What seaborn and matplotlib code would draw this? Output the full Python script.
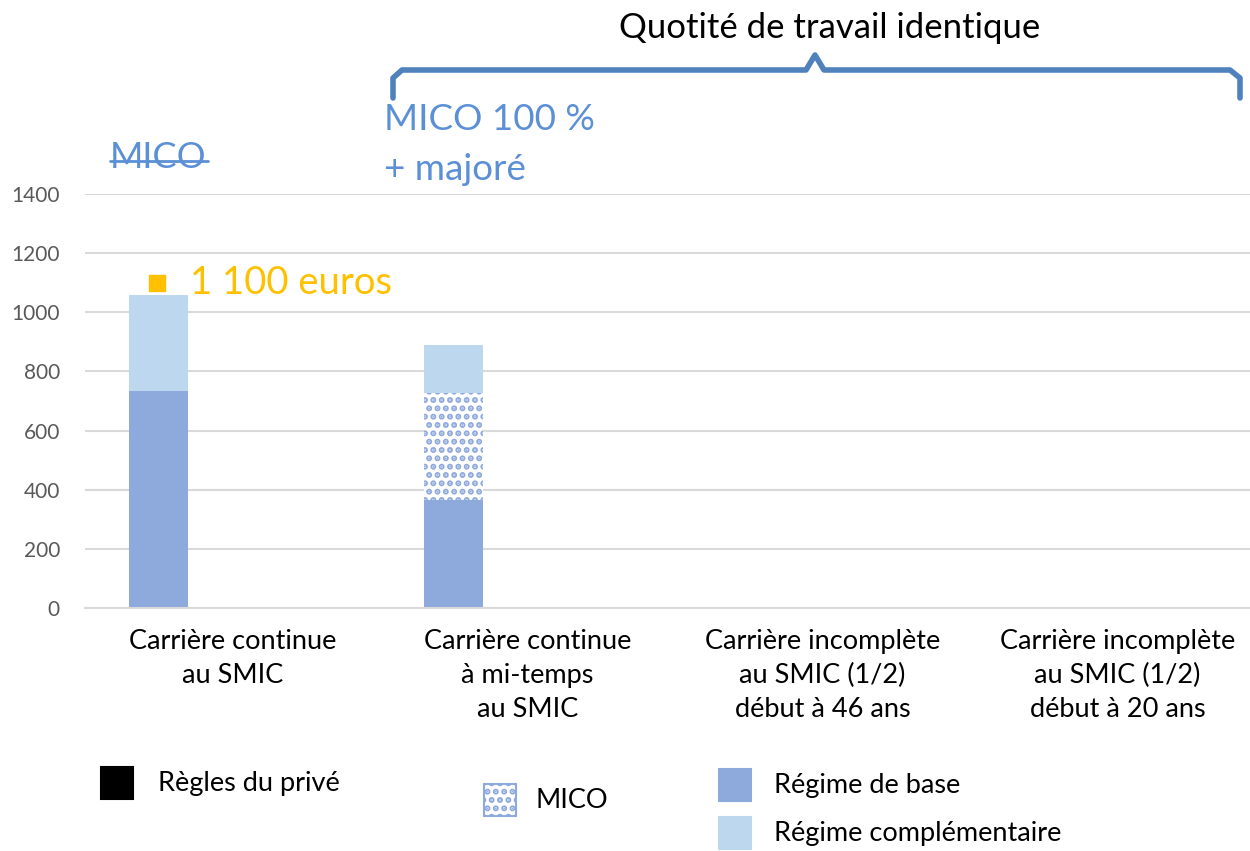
import matplotlib
matplotlib.use("Agg")
import matplotlib.pyplot as plt
from matplotlib.patches import Rectangle
from matplotlib.lines import Line2D
import numpy as np
import pandas as pd
import seaborn as sns

categories = ["Carrière continue\nau SMIC",
              "Carrière continue\nà mi-temps\nau SMIC",
              "Carrière incomplète\nau SMIC (1/2)\ndébut à 46 ans",
              "Carrière incomplète\nau SMIC (1/2)\ndébut à 20 ans"]
regime_base = [735, 365, 0, 0]
mico = [0, 363, 0, 0]
regime_compl = [325, 162, 0, 0]
y_ticks = [0, 200, 400, 600, 800, 1000, 1200, 1400]

c_base = "#8EA9DB"
c_compl = "#BDD7EE"
c_blue_txt = "#5B8FD6"
c_yellow = "#FFC000"
c_bracket = "#4F81BD"

sns.set_theme(style="white")
plt.rcParams["font.family"] = ["Lato", "DejaVu Sans"]
plt.rcParams["hatch.color"] = c_base
plt.rcParams["hatch.linewidth"] = 3.0

W, H = 1250, 851
fig = plt.figure(figsize=(W / 100, H / 100), dpi=100)


def px(x, y):
    return x / W, 1 - y / H


ax = fig.add_axes([85 / W, 1 - 608 / H, (1265 - 85) / W, (608 - 194) / H])

base = np.array(regime_base)
mid = base + np.array(mico)
top = mid + np.array(regime_compl)

layers = [(top, c_compl, None), (mid, "white", ".."), (base, c_base, None)]
for vals, col, hatch in layers:
    df = pd.DataFrame({
        "cat": categories * 2,
        "val": list(vals) + [0] * len(categories),
        "grp": ["a"] * len(categories) + ["b"] * len(categories),
    })
    sns.barplot(data=df, x="cat", y="val", hue="grp", hue_order=["a", "b"],
                order=categories, palette={"a": col, "b": col}, width=1.0,
                gap=0.6, dodge=True, legend=False, linewidth=0, ax=ax,
                errorbar=None, saturation=1)
    if hatch:
        n = len(categories)
        for p in ax.patches[-2 * n:]:
            p.set_hatch(hatch)
            p.set_edgecolor(c_base)
            p.set_linewidth(0)

ax.set_ylim(0, 1400)
ax.set_xlim(-0.5, 3.5)
ax.set_yticks(y_ticks)
ax.yaxis.grid(True, color="#D9D9D9", linewidth=1.5)
ax.set_axisbelow(True)
for s in ["top", "right", "left"]:
    ax.spines[s].set_visible(False)
ax.spines["bottom"].set_color("#D9D9D9")
ax.spines["bottom"].set_linewidth(1.5)
ax.set_xlabel("")
ax.set_ylabel("")
ax.tick_params(axis="y", labelsize=15, colors="#595959", length=0, pad=18)
ax.tick_params(axis="x", labelsize=19.5, colors="#000000", length=0, pad=15)
for lab in ax.get_yticklabels():
    lab.set_color("#595959")
for lab in ax.get_xticklabels():
    lab.set_linespacing(1.45)

# annotations
fig.text(*px(830, 28), "Quotité de travail identique", fontsize=25,
         ha="center", va="center", color="#000000")
fig.text(*px(384, 120), "MICO 100 %", fontsize=26.5, ha="left", va="center",
         color=c_blue_txt)
fig.text(*px(384, 170), "+ majoré", fontsize=26.5, ha="left", va="center",
         color=c_blue_txt)
fig.text(*px(110, 158), "MICO", fontsize=26, ha="left", va="center",
         color=c_blue_txt)
fig.add_artist(Line2D([110 / W, 208 / W], [1 - 161 / H, 1 - 161 / H],
                      color=c_blue_txt, lw=2))
fig.add_artist(Rectangle(px(149, 291), 16 / W, 16 / H, color=c_yellow))
fig.text(*px(190, 283), "1 100 euros", fontsize=27.5, ha="left", va="center",
         color=c_yellow)

# bracket
bx = [393, 393, 402, 806, 815, 824, 1230, 1240, 1240]
by = [98, 78, 70, 70, 55, 70, 70, 78, 98]
fig.add_artist(Line2D([x / W for x in bx], [1 - y / H for y in by],
                      color=c_bracket, lw=4, solid_joinstyle="round",
                      solid_capstyle="round"))

# legend
def leg(x, y, col, label, hatch=None, tx=None):
    r = Rectangle(px(x, y + 16), 32 / W, 32 / H, facecolor=col,
                  edgecolor=c_base if hatch else col, hatch=hatch, lw=1.5)
    fig.add_artist(r)
    fig.text(*px(tx, y), label, fontsize=19.5, ha="left", va="center",
             color="#000000")

leg(101, 783, "#000000", "Règles du privé", tx=158)
leg(484, 800, "white", "MICO", hatch="..", tx=535)
leg(719, 785, c_base, "Régime de base", tx=774)
leg(719, 833, c_compl, "Régime complémentaire", tx=774)

fig.savefig("out.png", dpi=100)
